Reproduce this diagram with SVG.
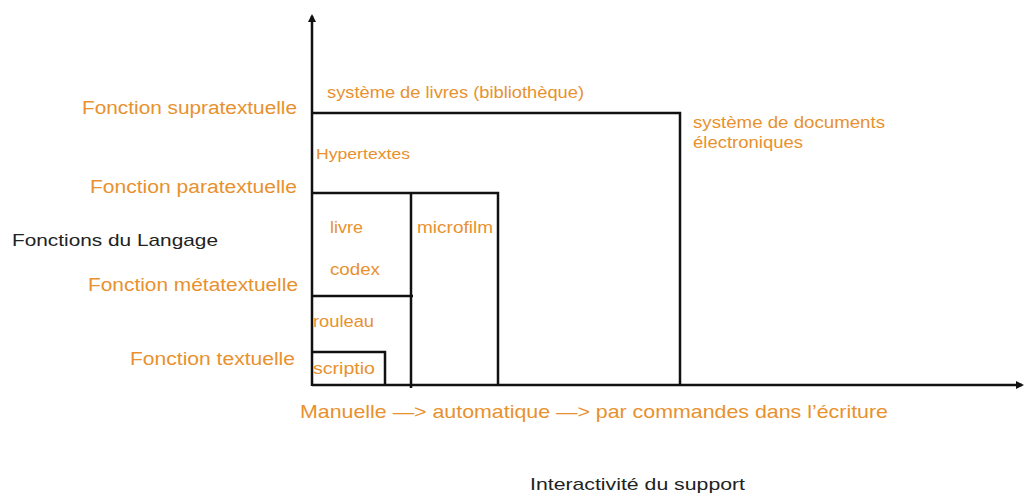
<svg xmlns="http://www.w3.org/2000/svg" width="1027" height="493" viewBox="0 0 1027 493">
<style>
.o{fill:#e8912e;font-family:"Liberation Sans",Arial,sans-serif;}
.k{fill:#222;font-family:"Liberation Sans",Arial,sans-serif;}
.ln{stroke:#111;stroke-width:2.5;fill:none;}
</style>
<defs>
<marker id="ah" markerWidth="8" markerHeight="8" refX="6" refY="4" orient="auto" markerUnits="userSpaceOnUse">
<path d="M0,0 L8,4 L0,8 z" fill="#111"/>
</marker>
</defs>
<rect width="1027" height="493" fill="#fff"/>
<g id="connectors">
<line class="ln" x1="312" y1="386" x2="312" y2="16" marker-end="url(#ah)"/>
<line class="ln" x1="312" y1="385" x2="1022" y2="385" marker-end="url(#ah)"/>
</g>
<g id="node-supra">
<polyline class="ln" points="312,113 680,113 680,385"/>
</g>
<g id="node-para">
<polyline class="ln" points="312,193 498,193 498,385"/>
<line class="ln" x1="411" y1="193" x2="411" y2="388"/>
</g>
<g id="node-meta">
<line class="ln" x1="312" y1="296" x2="413" y2="296"/>
</g>
<g id="node-scriptio">
<polyline class="ln" points="312,352 385,352 385,385"/>
</g>
<g id="labels-y" lengthAdjust="spacingAndGlyphs">
<text class="o" x="82" y="114" font-size="18" textLength="215" lengthAdjust="spacingAndGlyphs">Fonction supratextuelle</text>
<text class="o" x="90" y="193" font-size="18" textLength="207" lengthAdjust="spacingAndGlyphs">Fonction paratextuelle</text>
<text class="k" x="12" y="246" font-size="17" textLength="206" lengthAdjust="spacingAndGlyphs">Fonctions du Langage</text>
<text class="o" x="88" y="291" font-size="18" textLength="210" lengthAdjust="spacingAndGlyphs">Fonction métatextuelle</text>
<text class="o" x="130" y="365" font-size="18" textLength="165" lengthAdjust="spacingAndGlyphs">Fonction textuelle</text>
</g>
<g id="labels-inner">
<text class="o" x="327" y="98" font-size="16" textLength="257" lengthAdjust="spacingAndGlyphs">système de livres (bibliothèque)</text>
<text class="o" x="316" y="159" font-size="15" textLength="94" lengthAdjust="spacingAndGlyphs">Hypertextes</text>
<text class="o" x="330" y="233" font-size="16" textLength="33" lengthAdjust="spacingAndGlyphs">livre</text>
<text class="o" x="330" y="275" font-size="16" textLength="50" lengthAdjust="spacingAndGlyphs">codex</text>
<text class="o" x="417" y="233" font-size="16" textLength="76" lengthAdjust="spacingAndGlyphs">microfilm</text>
<text class="o" x="313" y="327" font-size="16" textLength="61" lengthAdjust="spacingAndGlyphs">rouleau</text>
<text class="o" x="313" y="374" font-size="16" textLength="62" lengthAdjust="spacingAndGlyphs">scriptio</text>
<text class="o" x="693" y="128" font-size="16" textLength="192" lengthAdjust="spacingAndGlyphs">système de documents</text>
<text class="o" x="693" y="148" font-size="16" textLength="110" lengthAdjust="spacingAndGlyphs">électroniques</text>
</g>
<g id="labels-x">
<text class="o" x="300" y="418" font-size="19" textLength="588" lengthAdjust="spacingAndGlyphs">Manuelle  —&gt; automatique —&gt;  par commandes dans l’écriture</text>
<text class="k" x="530" y="490" font-size="17" textLength="215" lengthAdjust="spacingAndGlyphs">Interactivité du support</text>
</g>
</svg>
